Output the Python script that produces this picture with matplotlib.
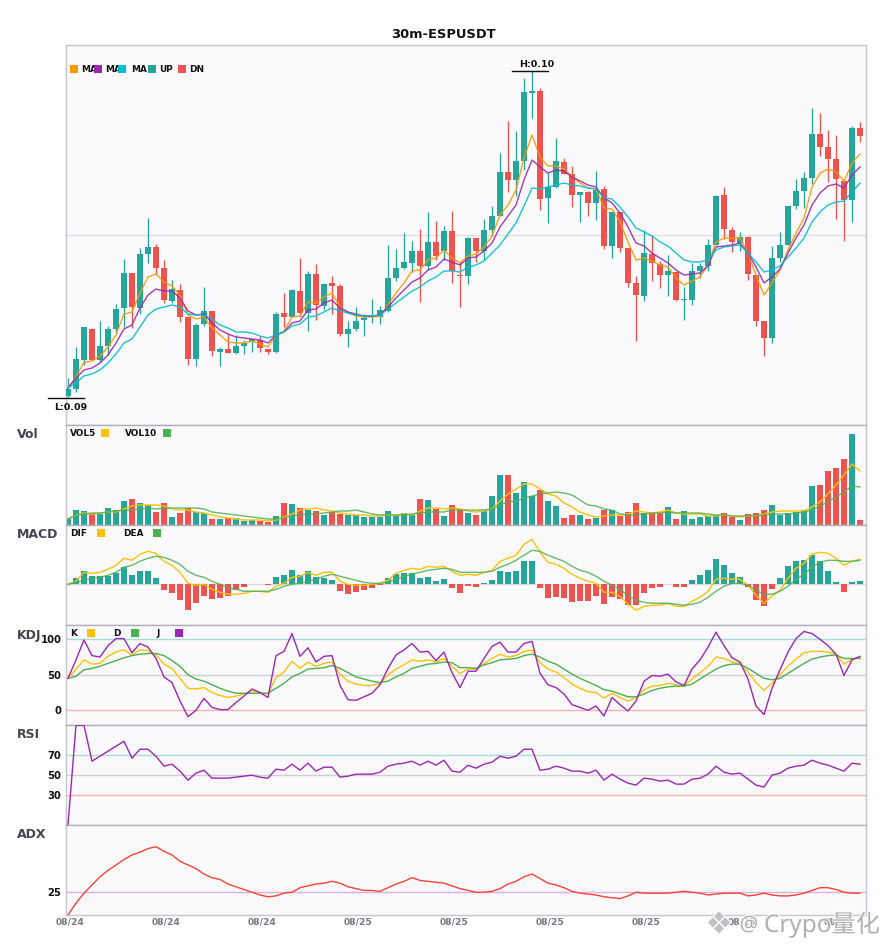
import numpy as np
import matplotlib
matplotlib.use("Agg")
import matplotlib.pyplot as plt
from matplotlib.patches import Rectangle
import matplotlib.patheffects as pe

TITLE = "30m-ESPUSDT"
BASE, STEP = 0.0900, 0.00003
X_LABELS = ["08/24"] * 3 + ["08/25"] * 6
X_STEP = 12

OPEN = [29,36,65,96,65,79,96,117,152,117,171,178,157,124,135,108,66,101,114,73,76,72,79,83,85,76,73,112,108,134,112,151,119,142,139,91,96,105,108,108,114,147,157,162,174,159,183,174,194,150,149,187,174,195,209,253,245,264,332,334,227,238,263,251,230,233,222,236,179,213,177,142,129,171,161,150,153,125,125,154,159,180,230,195,182,188,150,104,87,167,180,219,234,247,291,278,266,244,225,297]
CLOSE = [36,66,98,65,79,96,116,152,118,171,178,157,125,136,108,66,100,114,74,76,72,79,82,86,77,73,111,108,135,112,151,120,141,139,91,96,104,107,109,115,147,157,163,174,159,183,169,194,154,149,187,174,195,209,253,245,264,333,334,226,238,264,251,230,233,222,235,179,213,177,142,130,172,162,150,154,125,126,154,159,180,229,196,183,188,151,104,87,167,180,219,234,247,291,278,266,246,225,297,289]
HIGH = [47,78,98,97,104,99,121,166,152,177,207,181,165,145,141,108,102,138,114,78,91,90,85,86,89,76,113,132,136,167,154,161,142,149,141,104,118,111,126,119,180,176,192,184,196,213,204,199,214,164,188,187,206,219,272,304,294,347,354,337,253,287,267,259,233,234,254,239,213,213,177,149,195,190,164,170,153,138,162,162,186,230,238,198,193,189,150,104,179,193,219,246,253,317,312,295,290,244,299,303]
LOW = [27,33,60,65,63,70,92,98,97,111,162,151,122,122,103,60,59,99,69,59,72,71,71,73,73,71,72,98,108,108,94,105,115,111,89,78,94,89,102,101,113,144,156,153,123,155,165,165,142,118,141,163,165,189,209,233,229,255,307,215,202,237,251,218,203,209,205,176,167,173,138,84,124,144,137,129,124,105,120,147,154,180,186,173,174,145,99,69,82,163,180,216,217,241,269,243,206,184,203,283]
MA_A = [37,48,63,64,69,78,90,111,113,132,148,151,143,139,130,110,106,108,97,90,83,82,82,84,81,78,90,94,108,109,123,122,128,132,118,112,109,108,108,109,120,132,142,154,155,165,167,175,167,162,169,171,178,189,210,220,235,267,290,268,259,259,256,249,242,237,236,217,216,203,183,165,167,164,160,158,147,140,144,148,160,183,187,187,187,172,150,130,142,155,175,192,207,238,252,256,253,244,262,271]
MA_B = [37,47,55,57,62,70,82,96,100,117,130,136,134,134,127,114,110,111,102,95,91,88,87,86,85,82,90,93,102,104,115,116,122,125,117,113,111,109,109,110,118,127,135,143,147,155,158,166,163,160,167,168,174,182,198,209,220,245,265,258,252,255,254,248,244,240,238,227,222,212,198,182,179,172,167,162,155,150,151,152,159,178,179,180,182,172,158,142,148,156,172,187,200,220,232,239,241,237,250,258]
MA_C = [37,42,49,51,55,62,71,82,86,98,110,116,118,120,118,111,110,110,106,100,97,93,93,92,89,87,90,93,99,101,108,109,113,117,114,112,110,109,109,110,116,122,128,134,138,144,148,154,154,153,158,160,164,172,180,191,202,219,237,236,238,240,242,240,239,237,236,227,226,218,208,197,193,189,183,179,172,165,163,163,165,175,178,179,180,172,163,153,155,159,168,177,187,203,213,220,223,224,233,242]

VOLUME = [7,15,14,11,11,17,15,24,26,22,20,13,22,8,12,17,13,12,6,6,7,7,4,5,4,3,9,22,21,17,15,14,10,13,11,10,10,8,8,8,14,9,12,10,26,25,16,9,20,16,12,10,14,29,50,50,32,43,29,35,24,19,7,10,10,6,7,15,15,9,13,22,12,12,12,18,6,14,6,8,9,10,12,8,5,11,12,15,20,10,12,13,15,39,40,54,57,66,91,5]
VOL5 = [6,10,12,11,12,13,13,16,19,20,20,20,19,16,15,15,13,12,10,8,7,6,5,5,5,4,5,8,11,15,16,17,15,14,12,11,10,10,9,9,10,10,11,10,14,17,17,16,17,16,14,13,14,16,24,31,36,41,41,36,31,29,22,18,13,10,8,9,10,10,11,14,13,12,13,15,12,11,11,11,9,9,10,9,8,9,9,11,13,14,14,14,14,18,23,31,40,50,61,54]
VOL10 = [6,10,11,12,12,13,14,15,15,16,17,16,17,17,17,17,17,16,13,12,11,10,9,8,7,6,6,7,9,10,11,11,12,13,14,14,15,13,11,10,10,10,10,11,12,13,13,13,15,15,15,15,15,16,20,23,24,27,29,31,32,33,32,30,25,20,19,16,15,11,10,10,11,12,12,13,12,12,12,12,11,10,10,9,9,9,9,10,11,11,11,12,13,15,19,23,28,33,39,38]

HIST = [0,6,13,8,8,8,11,17,9,13,13,6,-6,-9,-16,-26,-19,-12,-15,-14,-12,-6,-3,0,0,-1,7,9,14,9,13,7,6,4,-7,-10,-8,-6,-4,-1,6,10,11,11,6,7,3,5,-4,-9,-2,-3,1,4,13,12,13,23,23,-4,-14,-13,-14,-18,-17,-17,-12,-20,-13,-15,-21,-21,-9,-4,-3,0,-3,-3,4,9,14,25,19,11,7,-3,-16,-22,-5,6,18,23,24,29,23,13,2,-8,2,3]
DIF = [0,3,12,11,12,15,19,26,24,30,33,31,23,19,12,1,-1,0,-5,-8,-10,-10,-9,-7,-7,-8,-2,1,7,8,12,9,12,12,3,0,-1,-1,0,1,4,11,14,16,15,18,17,18,13,9,10,9,12,14,23,26,29,40,45,32,22,20,16,10,6,3,1,-8,-8,-12,-20,-26,-22,-21,-21,-19,-22,-22,-17,-13,-7,5,6,5,5,-1,-11,-19,-12,-6,6,16,21,30,32,31,26,19,23,25]
DEA = [0,2,4,6,7,9,12,17,19,23,26,28,27,24,20,13,9,7,3,0,-3,-5,-7,-7,-7,-7,-5,-2,0,1,3,5,8,10,8,6,4,2,1,1,2,5,8,10,12,14,15,16,15,12,12,12,12,13,17,20,24,29,34,33,29,26,23,18,14,12,8,3,-1,-5,-11,-16,-18,-19,-19,-19,-20,-21,-20,-18,-13,-7,-2,1,1,-1,-6,-10,-10,-7,-2,5,10,17,22,24,24,23,23,24]

K = [45,58,71,65,66,76,82,85,78,85,84,78,65,59,45,31,30,32,25,21,18,20,23,27,25,23,46,54,69,59,68,62,66,68,51,41,37,35,35,38,50,58,64,71,69,71,68,73,62,52,58,58,66,73,79,75,77,83,85,67,58,54,46,37,31,26,25,17,24,18,13,18,29,34,35,38,36,34,44,53,62,75,73,68,66,54,39,28,38,50,62,72,81,83,83,82,79,65,72,74]
D = [45,48,57,59,62,66,70,74,77,79,80,80,77,70,62,50,44,41,36,31,27,24,24,24,24,24,31,38,47,52,58,59,60,63,59,53,47,44,41,39,41,47,52,59,62,65,66,68,67,60,60,59,64,67,71,72,73,77,79,75,69,65,58,51,45,40,35,29,27,23,19,19,23,28,31,33,34,34,37,44,51,58,63,65,65,59,52,45,43,45,52,59,66,72,75,77,78,73,73,73]
J = [45,71,99,77,75,91,101,101,81,94,89,73,47,39,13,-9,0,17,4,1,1,11,20,30,25,18,77,83,108,76,88,68,76,77,35,15,14,19,24,36,59,78,85,94,82,83,70,82,53,32,55,55,73,90,96,82,82,94,97,52,36,32,23,8,4,0,6,-8,18,8,-1,13,41,49,48,51,40,35,58,71,89,110,91,74,68,44,6,-6,31,57,82,101,111,108,100,91,79,49,71,76]
RSI = [0,100,100,64,69,74,79,84,67,76,76,69,59,61,54,45,52,55,47,47,47,48,49,50,48,47,56,55,61,55,62,54,58,58,48,49,51,51,51,53,59,61,62,64,60,64,60,65,54,53,60,57,61,63,69,67,69,76,76,55,56,59,57,54,54,52,55,45,51,46,42,40,47,46,44,45,41,41,46,47,51,59,53,51,52,46,40,38,50,52,57,59,60,65,62,60,57,54,62,61]
ADX = [0,13,24,33,42,49,55,61,66,69,73,75,70,66,59,55,51,45,41,39,34,31,28,25,22,20,21,24,25,30,32,34,35,37,35,31,29,27,27,26,30,34,37,41,38,37,36,35,32,29,27,25,25,26,29,34,37,42,45,40,35,33,30,26,24,23,22,20,19,18,21,25,24,24,24,24,25,26,25,24,22,23,24,24,24,21,22,24,22,21,21,22,24,27,30,30,28,25,24,24]

UP, DN = "#26A69A", "#EF5350"
C_MA = ["#FF9800", "#9C27B0", "#00BCD4"]
YEL, GRN, PUR = "#FFC107", "#4CAF50", "#9C27B0"
FG = "#fafafc"
W, H = 885, 950
LW = 1.0

for name, arr in list(globals().items()):
    if isinstance(arr, list) and name.isupper() and name not in ("X_LABELS", "C_MA"):
        assert len(arr) == 100, (name, len(arr))

plt.rcParams["font.family"] = ["DejaVu Sans"]
fig = plt.figure(figsize=(W / 100, H / 100), dpi=100, facecolor="white")
X0, X1 = 65.5, 866.0
xlim = (-0.31, 99.75)
x = np.arange(100)


def panel(top, bottom, ylim, label=None, border="#aeaeb6"):
    ax = fig.add_axes([X0 / W, 1 - bottom / H, (X1 - X0) / W, (bottom - top) / H], facecolor=FG)
    ax.set_xlim(*xlim)
    ax.set_ylim(*ylim)
    ax.set_xticks([])
    ax.set_yticks([])
    for s in ax.spines.values():
        s.set_color("#c6c6ce")
        s.set_linewidth(1.0)
    ax.spines["top"].set_color(border)
    if label:
        fig.text(17 / W, 1 - (top + 10) / H, label, fontsize=9, fontweight="bold",
                 color="#444450", va="center", ha="left")
    return ax


def legend(items, y):
    for kind, xp, v, c in items:
        if kind == "t":
            fig.text(xp / W, 1 - y / H, v, fontsize=6.4, fontweight="bold", color="#111",
                     va="center", ha="left", zorder=20)
        else:
            fig.add_artist(Rectangle((xp / W, 1 - (y + 4) / H), 8 / W, 8 / H, transform=fig.transFigure,
                                     facecolor=c, edgecolor="none", zorder=21))


def yticks(ax, vals):
    ax.set_yticks(vals)
    ax.set_yticklabels([str(v) for v in vals], fontsize=7.2, fontweight="bold", color="#111")
    ax.tick_params(axis="y", length=0, pad=3)


def price(v):
    return BASE + np.asarray(v, dtype=float) * STEP


# main panel
ax = panel(45, 425, (BASE, BASE + 380 * STEP), border="#c6c6ce")
o, c, h, l = price(OPEN), price(CLOSE), price(HIGH), price(LOW)
cols = [UP if cc >= oo else DN for oo, cc in zip(o, c)]
ax.axhline(price(190), color="#e0e0e4", lw=1.0, zorder=1)
ax.vlines(x, l, h, colors=cols, lw=0.95, zorder=2)
body = np.maximum(np.abs(c - o), 1.4 * STEP)
ax.bar(x, body, bottom=np.minimum(o, c), width=0.75, color=cols, zorder=3, linewidth=0)
for ma, col in zip((MA_A, MA_B, MA_C), C_MA):
    ax.plot(x, price(ma), color=col, lw=LW, alpha=0.9, zorder=4)
ih, il = int(np.argmax(h)), int(np.argmin(l))
ax.plot([ih - 2.5, ih + 2], [h[ih], h[ih]], color="#111", lw=1.0, zorder=5)
ax.plot([il - 2.5, il + 2], [l[il], l[il]], color="#111", lw=1.0, zorder=5, clip_on=False)
ax.text(ih + 0.6, h[ih] + 6 * STEP, f"H:{h[ih]:.2f}", fontsize=6.8, fontweight="bold", color="#111",
        ha="center", va="center")
ax.text(il + 0.4, l[il] - 9 * STEP, f"L:{l[il]:.2f}", fontsize=6.8, fontweight="bold", color="#111",
        ha="center", va="center")
fig.text(443 / W, 1 - 34 / H, TITLE, fontsize=9.4, fontweight="bold", color="#111", ha="center", va="center")
legend([("t", 81, "MA", None), ("s", 70, None, C_MA[0]), ("t", 105, "MA", None), ("s", 94, None, C_MA[1]),
        ("t", 131, "MA", None), ("s", 118, None, C_MA[2]), ("s", 148, None, UP), ("t", 159, "UP", None),
        ("s", 178, None, DN), ("t", 189, "DN", None)], 69)

# volume
ax = panel(425, 525, (0, 100), "Vol")
ax.bar(x, VOLUME, width=0.75, color=cols, linewidth=0, zorder=2)
ax.plot(x, VOL5, color=YEL, lw=LW, zorder=3)
ax.plot(x, VOL10, color=GRN, lw=LW, alpha=0.85, zorder=3)
legend([("t", 70, "VOL5", None), ("s", 101, None, YEL), ("t", 125, "VOL10", None), ("s", 163, None, GRN)], 433)

# MACD
ax = panel(525, 625, (-40.7, 59.3), "MACD")
ax.axhline(0, color="#dcdce0", lw=1.0, zorder=1)
ax.bar(x, HIST, width=0.75, color=[UP if v >= 0 else DN for v in HIST], linewidth=0, zorder=2)
ax.plot(x, DIF, color=YEL, lw=LW, zorder=3)
ax.plot(x, DEA, color=GRN, lw=LW, alpha=0.85, zorder=3)
legend([("t", 70, "DIF", None), ("s", 97, None, YEL), ("t", 123, "DEA", None), ("s", 153, None, GRN)], 533)

# KDJ
ax = panel(625, 725, (-20.7, 120.1), "KDJ")
for v, col in ((100, "#a8dcd8"), (50, "#cfcfd4"), (0, "#ffb4b0")):
    ax.axhline(v, color=col, lw=1.0, zorder=1)
ax.plot(x, K, color=YEL, lw=LW, zorder=3)
ax.plot(x, D, color=GRN, lw=LW, zorder=3)
ax.plot(x, J, color=PUR, lw=LW, zorder=4, clip_on=True)
yticks(ax, [0, 50, 100])
legend([("t", 70, "K", None), ("s", 87, None, YEL), ("t", 113, "D", None), ("s", 131, None, GRN),
        ("t", 156, "J", None), ("s", 175, None, PUR)], 633)

# RSI
ax = panel(725, 825, (0, 100.3), "RSI")
for v, col in ((70, "#a8dcd8"), (50, "#cfcfd4"), (30, "#ffb4b0")):
    ax.axhline(v, color=col, lw=1.0, zorder=1)
ax.plot(x, RSI, color=PUR, lw=LW, zorder=3)
yticks(ax, [30, 50, 70])

# ADX
ax = panel(825, 915, (0, 98.9), "ADX")
ax.axhline(25, color="#e2aeea", lw=1.0, zorder=1)
ax.plot(x, ADX, color="#F44336", lw=LW, zorder=3)
yticks(ax, [25])
ticks = np.arange(0, 100, X_STEP)
ax.set_xticks(ticks + 0.25)
ax.set_xticklabels(X_LABELS, fontsize=6.6, fontweight="bold", color="#77777f")
ax.tick_params(axis="x", length=0, pad=1.5)

# watermark
halo = [pe.withStroke(linewidth=1.5, foreground="white")]
fig.text(719 / W, 1 - 925 / H, "❖", fontsize=22, color="#c2c2c2", ha="center", va="center",
         family=["DejaVu Sans"], path_effects=halo, zorder=30)
fig.text(749 / W, 1 - 925 / H, "@", fontsize=15, color="#adadad", ha="center", va="center",
         family=["Noto Sans", "DejaVu Sans"], path_effects=halo, zorder=30)
fig.text(764 / W, 1 - 925 / H, "Crypo量化", fontsize=17.5, color="#b0b0b0", ha="left", va="center",
         family=["Noto Sans", "Noto Sans CJK SC", "DejaVu Sans"], path_effects=halo, zorder=30)

fig.savefig("out.png", dpi=100)
